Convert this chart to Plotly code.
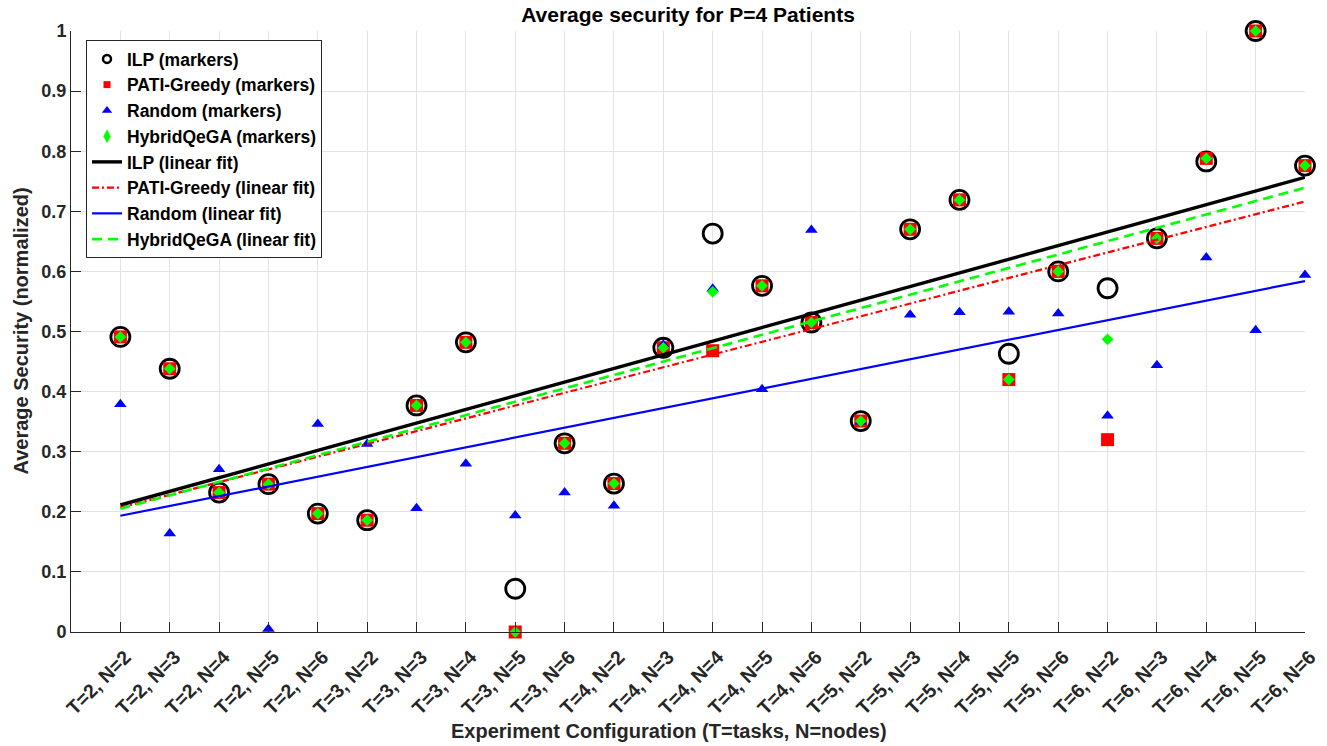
import numpy as np
import plotly.graph_objects as go

categories = ["T=2, N=2", "T=2, N=3", "T=2, N=4", "T=2, N=5", "T=2, N=6",
              "T=3, N=2", "T=3, N=3", "T=3, N=4", "T=3, N=5", "T=3, N=6",
              "T=4, N=2", "T=4, N=3", "T=4, N=4", "T=4, N=5", "T=4, N=6",
              "T=5, N=2", "T=5, N=3", "T=5, N=4", "T=5, N=5", "T=5, N=6",
              "T=6, N=2", "T=6, N=3", "T=6, N=4", "T=6, N=5", "T=6, N=6"]

ilp = [0.491, 0.438, 0.232, 0.246, 0.197, 0.186, 0.377, 0.482, 0.072, 0.314,
       0.247, 0.473, 0.663, 0.576, 0.515, 0.351, 0.670, 0.719, 0.463, 0.600,
       0.572, 0.655, 0.783, 1.000, 0.776]
pati_greedy = [0.491, 0.438, 0.232, 0.246, 0.197, 0.186, 0.377, 0.482, 0.000, 0.314,
               0.247, 0.473, 0.468, 0.576, 0.515, 0.351, 0.670, 0.719, 0.420, 0.600,
               0.320, 0.655, 0.788, 1.000, 0.776]
random_alloc = [0.379, 0.164, 0.271, 0.005, 0.346, 0.313, 0.206, 0.280, 0.194, 0.232,
                0.210, 0.478, 0.571, 0.404, 0.669, 0.350, 0.528, 0.532, 0.533, 0.530,
                0.360, 0.444, 0.623, 0.502, 0.594]
hybrid_qega = [0.491, 0.438, 0.232, 0.246, 0.197, 0.186, 0.377, 0.482, 0.000, 0.314,
               0.247, 0.473, 0.566, 0.576, 0.515, 0.351, 0.670, 0.719, 0.420, 0.600,
               0.487, 0.655, 0.788, 1.000, 0.776]

x = np.arange(1, len(categories) + 1)

FONT = "Liberation Sans, Arial, Helvetica, sans-serif"
AX = "#262626"

fig = go.Figure()

marker_specs = [
    ("ILP", ilp, dict(symbol="circle-open", size=19, color="black", line=dict(width=2.8, color="black")),
     dict(symbol="circle-open", size=8, color="black", line=dict(width=2.5, color="black"))),
    ("PATI-Greedy", pati_greedy, dict(symbol="square", size=13, color="#FF0000"),
     dict(symbol="square", size=7, color="#FF0000")),
    ("Random", random_alloc, dict(symbol="triangle-up", size=11, color="#0000FF"),
     dict(symbol="triangle-up", size=9, color="#0000FF")),
    ("HybridQeGA", hybrid_qega, dict(symbol="diamond", size=9, color="#00FF00"),
     dict(symbol="diamond-tall", size=10, color="#00FF00")),
]

rank = 1
for name, vals, mk, lmk in marker_specs:
    fig.add_trace(go.Scatter(x=x, y=vals, mode="markers", marker=mk, name=name + " (markers)",
                             showlegend=False, cliponaxis=False, hoverinfo="x+y"))
    fig.add_trace(go.Scatter(x=[None], y=[None], mode="markers", marker=lmk,
                             name=name + " (markers)", legendrank=rank))
    rank += 1

line_specs = [
    ("ILP", ilp, dict(color="black", width=3.4)),
    ("PATI-Greedy", pati_greedy, dict(color="#FF0000", width=2.2, dash="7px,3px,2px,3px")),
    ("Random", random_alloc, dict(color="#0000FF", width=2.2)),
    ("HybridQeGA", hybrid_qega, dict(color="#00FF00", width=2.6, dash="10px,6px")),
]
for name, vals, ln in line_specs:
    p = np.polyfit(x, vals, 1)
    xf = np.array([x[0], x[-1]])
    fig.add_trace(go.Scatter(x=xf, y=np.polyval(p, xf), mode="lines", line=ln,
                             name=name + " (linear fit)", legendrank=rank))
    rank += 1

fig.update_layout(
    width=1327, height=746, autosize=False,
    margin=dict(l=71, r=22, t=31, b=114, pad=0),
    paper_bgcolor="white", plot_bgcolor="white",
    font=dict(family=FONT, color=AX, size=17, weight="bold"),
    title=dict(text="Average security for P=4 Patients", x=688 / 1327, xanchor="center",
               y=1 - 15 / 746, yanchor="middle", yref="container",
               font=dict(family=FONT, size=21, color="black", weight="bold")),
    legend=dict(x=(86 - 71) / 1234, y=(632 - 40) / 601, xanchor="left", yanchor="top",
                bgcolor="white", bordercolor=AX, borderwidth=1,
                font=dict(family=FONT, size=17.5, color="black", weight="bold"),
                tracegroupgap=0, itemwidth=30),
    showlegend=True,
)

fig.update_xaxes(
    range=[0, len(categories)], tickmode="array", tickvals=x, ticktext=categories,
    tickangle=-45, ticks="inside", ticklen=10, tickcolor=AX, tickwidth=1,
    ticklabelstandoff=5, ticklabelshift=5, automargin=False,
    showline=True, linecolor=AX, linewidth=1, mirror=False,
    showgrid=True, gridcolor="#e3e3e3", gridwidth=1, zeroline=False,
    tickfont=dict(family=FONT, size=19.5, color=AX, weight="bold"),
)
fig.update_yaxes(
    range=[0, 1], tickmode="linear", tick0=0, dtick=0.1, automargin=False,
    ticks="inside", ticklen=10, tickcolor=AX, tickwidth=1,
    showline=True, linecolor=AX, linewidth=1, mirror=False,
    showgrid=True, gridcolor="#e3e3e3", gridwidth=1, zeroline=False,
    tickfont=dict(family=FONT, size=18, color=AX, weight="bold"),
)

fig.add_annotation(text="Experiment Configuration (T=tasks, N=nodes)", xref="paper", yref="paper",
                   x=(669 - 71) / 1234, y=(632 - 731) / 601, xanchor="center", yanchor="middle",
                   showarrow=False, font=dict(family=FONT, size=20, color=AX, weight="bold"))
fig.add_annotation(text="Average Security (normalized)", xref="paper", yref="paper",
                   x=(20 - 71) / 1234, y=0.5, xanchor="center", yanchor="middle", textangle=-90,
                   showarrow=False, font=dict(family=FONT, size=20, color=AX, weight="bold"))

fig.write_html("out.html")
